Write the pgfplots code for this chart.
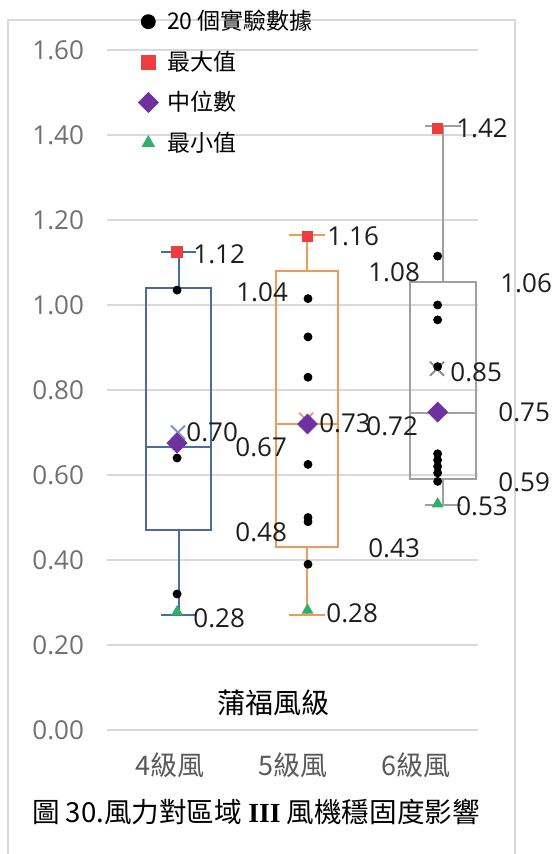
\documentclass[border=0pt]{standalone}
\usepackage{fontspec}
\setmainfont{Open Sans}
\newfontfamily\cjk{Noto Sans CJK TC}
\newfontfamily\rmser{Liberation Serif}
\usepackage{pgfplots}
\pgfplotsset{compat=1.18}
\usepgfplotslibrary{statistics}
\definecolor{boxA}{HTML}{4A6BA0}
\definecolor{boxB}{HTML}{EE9A5A}
\definecolor{boxC}{HTML}{A0A0A0}
\definecolor{gridc}{HTML}{D9D9D9}
\definecolor{tickc}{HTML}{707070}
\definecolor{maxc}{HTML}{F03C3C}
\definecolor{medc}{HTML}{7030A0}
\definecolor{minc}{HTML}{2EB068}
\definecolor{meanA}{HTML}{7B8ED6}
\definecolor{meanB}{HTML}{E8957A}
\definecolor{meanC}{HTML}{8C8C8C}
\definecolor{lab}{HTML}{1E1E1E}
\begin{document}
\begin{tikzpicture}
\useasboundingbox (0,0) rectangle (276pt,-427pt);
\draw[gridc, line width=1.2pt] (4pt,-427pt) -- (4pt,-10pt) -- (257.5pt,-10pt) -- (257.5pt,-427pt);
\begin{axis}[
  at={(53.5pt,-365pt)}, anchor=south west,
  scale only axis, width=185.5pt, height=340pt,
  xmin=0.475, xmax=3.297, ymin=0, ymax=1.6,
  clip=false,
  axis line style={draw=none},
  tick style={draw=none},
  boxplot/draw direction=y,
  ytick={0,0.2,0.4,0.6,0.8,1.0,1.2,1.4,1.6},
  ymajorgrids, grid style={gridc, line width=1pt},
  yticklabel style={/pgf/number format/.cd, fixed, fixed zerofill, precision=2, assume math mode=true, /tikz/.cd, font=\fontsize{13}{15}\selectfont, text=tickc, xshift=-8pt},
  xtick={0.954,1.89,2.825},
  xticklabels={4級風,5級風,6級風},
  xticklabel style={font=\cjk\fontsize{13.5}{15}\selectfont, text=tickc!80!black, yshift=-7.7pt},
  legend style={at={(0.0836,1.0588)}, anchor=north west, draw=none, fill=none, inner sep=0pt,
     nodes={inner sep=0pt, anchor=west}, row sep=9pt, font=\cjk\fontsize{11.5}{13}\selectfont, column sep=4.5pt},
  legend cell align=left,
  legend image code/.code={\draw[#1] plot coordinates {(0pt,0pt)};},
  legend image post style={mark size=3.5pt},
]
% box plots
\addplot[boxA, line width=1pt, forget plot, boxplot prepared={draw position=1.02, lower whisker=0.27, lower quartile=0.47, median=0.665, upper quartile=1.04, upper whisker=1.125, box extend=0.49, whisker extend=0.27}] coordinates {};
\addplot[boxB, line width=1pt, forget plot, boxplot prepared={draw position=1.995, lower whisker=0.27, lower quartile=0.43, median=0.72, upper quartile=1.08, upper whisker=1.165, box extend=0.47, whisker extend=0.27}] coordinates {};
\addplot[boxC, line width=1pt, forget plot, boxplot prepared={draw position=3.03, lower whisker=0.53, lower quartile=0.59, median=0.745, upper quartile=1.055, upper whisker=1.42, box extend=0.5, whisker extend=0.27}] coordinates {};
% means
\addplot[only marks, mark=x, mark size=5pt, meanA, line width=0.9pt, forget plot] coordinates {(1.015,0.70)};
\addplot[only marks, mark=x, mark size=5pt, meanB, line width=0.9pt, forget plot] coordinates {(1.99,0.73)};
\addplot[only marks, mark=x, mark size=5pt, meanC, line width=0.9pt, forget plot] coordinates {(2.985,0.85)};
% data points
\addplot[only marks, mark=*, mark size=2pt, black] coordinates {
 (1.008,1.035) (1.008,0.64) (1.008,0.32)
 (2.004,1.015) (2.004,0.925) (2.004,0.83) (2.004,0.625) (2.004,0.50) (2.004,0.49) (2.004,0.39)
 (2.99,1.115) (2.99,1.0) (2.99,0.965) (2.99,0.855) (2.99,0.65) (2.99,0.635) (2.99,0.62) (2.99,0.605) (2.99,0.585)
};
\addlegendentry{20 個實驗數據}
\addplot[only marks, mark=square*, mark size=2.6pt, maxc] coordinates {(1.008,1.125) (2.0,1.162) (2.99,1.415)};
\addlegendentry{最大值}
\addplot[only marks, mark=square*, mark options={rotate=45}, mark size=3.5pt, medc] coordinates {(1.008,0.675) (2.0,0.72) (2.99,0.748)};
\addlegendentry{中位數}
\addplot[only marks, mark=triangle*, mark size=3pt, minc] coordinates {(1.008,0.278) (2.0,0.282) (2.99,0.532)};
\addlegendentry{最小值}
% data labels
\begin{scope}[every node/.style={inner sep=0pt, anchor=west, text=lab, font=\fontsize{13}{15}\selectfont}]
\node at (axis cs:1.129,1.12) {1.12};
\node at (axis cs:1.456,1.031) {1.04};
\node at (axis cs:1.076,0.701) {0.70};
\node at (axis cs:1.449,0.666) {0.67};
\node at (axis cs:1.449,0.466) {0.48};
\node at (axis cs:1.129,0.264) {0.28};
\node at (axis cs:2.148,1.162) {1.16};
\node at (axis cs:2.46,1.078) {1.08};
\node at (axis cs:2.087,0.722) {0.73};
\node at (axis cs:2.445,0.715) {0.72};
\node at (axis cs:2.46,0.428) {0.43};
\node at (axis cs:2.141,0.275) {0.28};
\node at (axis cs:3.129,1.416) {1.42};
\node at (axis cs:3.464,1.052) {1.06};
\node at (axis cs:3.084,0.842) {0.85};
\node at (axis cs:3.449,0.748) {0.75};
\node at (axis cs:3.449,0.584) {0.59};
\node at (axis cs:3.129,0.527) {0.53};
\end{scope}
\node[font=\cjk\fontsize{14}{16}\selectfont, text=black] at (axis cs:1.745,0.064) {蒲福風級};
\end{axis}
\node[font=\cjk\fontsize{13.8}{16}\selectfont, text=black] at (128pt,-406pt) {圖 30.風力對區域 {\rmser\bfseries III} 風機穩固度影響};
\end{tikzpicture}
\end{document}
